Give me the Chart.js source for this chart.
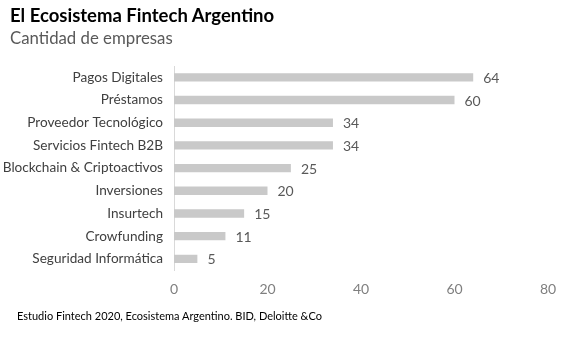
<!DOCTYPE html>
<html>
<head>
    <title>El Ecosistema Fintech Argentino</title>
    <meta charset="utf-8" />
    <script src="https://cdn.jsdelivr.net/npm/chart.js"></script>
    <style>
        body { margin: 0; background: #fff; }
        .wrap { position: relative; width: 575px; height: 339px; font-family: Lato, "Open Sans", sans-serif; }
        .title { position: absolute; left: 10px; top: 4px; font-size: 18.5px; font-weight: bold; color: #000; }
        .subtitle { position: absolute; left: 10px; top: 27px; font-size: 16.8px; color: #595959; }
        .note { position: absolute; left: 17px; top: 309px; font-size: 11px; color: #000; }
        canvas { position: absolute; left: 0; top: 0; }
    </style>
</head>
<body>
    <div class="wrap">
        <canvas id="barChart" width="575" height="339"></canvas>
        <div class="title">El Ecosistema Fintech Argentino</div>
        <div class="subtitle">Cantidad de empresas</div>
        <div class="note">Estudio Fintech 2020, Ecosistema Argentino. BID, Deloitte &amp;Co</div>
    </div>

    <script>
        // datos
        const categorias = ['Pagos Digitales', 'Préstamos', 'Proveedor Tecnológico', 'Servicios Fintech B2B',
            'Blockchain & Criptoactivos', 'Inversiones', 'Insurtech', 'Crowfunding', 'Seguridad Informática'];
        const empresas = [64, 60, 34, 34, 25, 20, 15, 11, 5];
        const ticksX = [0, 20, 40, 60, 80];

        // etiquetas al final de cada barra
        const etiquetas = {
            id: 'etiquetas',
            afterDatasetsDraw(chart) {
                const c = chart.ctx;
                c.save();
                c.font = '14px Lato, "Open Sans", sans-serif';
                c.fillStyle = '#595959';
                c.textBaseline = 'middle';
                chart.getDatasetMeta(0).data.forEach((bar, i) => {
                    c.fillText(String(empresas[i]), bar.x + 10, bar.y + 1);
                });
                c.restore();
            }
        };

        const ctx = document.getElementById('barChart').getContext('2d');
        const barChart = new Chart(ctx, {
            type: 'bar',
            data: {
                labels: categorias,
                datasets: [{
                    data: empresas,
                    backgroundColor: '#c9c9c9',
                    barPercentage: 0.37,
                    categoryPercentage: 1
                }]
            },
            options: {
                indexAxis: 'y',
                responsive: false,
                animation: false,
                layout: { padding: { top: 66, right: 27, bottom: 30, left: 0 } },
                plugins: {
                    legend: { display: false },
                    tooltip: { enabled: false }
                },
                scales: {
                    x: {
                        min: 0,
                        max: 80,
                        afterBuildTicks: (s) => { s.ticks = ticksX.map(v => ({ value: v })); },
                        grid: { display: false, drawTicks: false },
                        border: { display: false },
                        ticks: { color: '#7f7f7f', font: { size: 14, family: 'Lato' }, padding: 11 }
                    },
                    y: {
                        afterFit: (s) => { s.width = 174; },
                        grid: { display: false, drawTicks: false },
                        border: { display: true, color: '#d9d9d9', width: 1 },
                        ticks: { color: '#404040', font: { size: 13.6, family: 'Lato' }, padding: 11 }
                    }
                }
            },
            plugins: [etiquetas]
        });
    </script>
</body>
</html>
